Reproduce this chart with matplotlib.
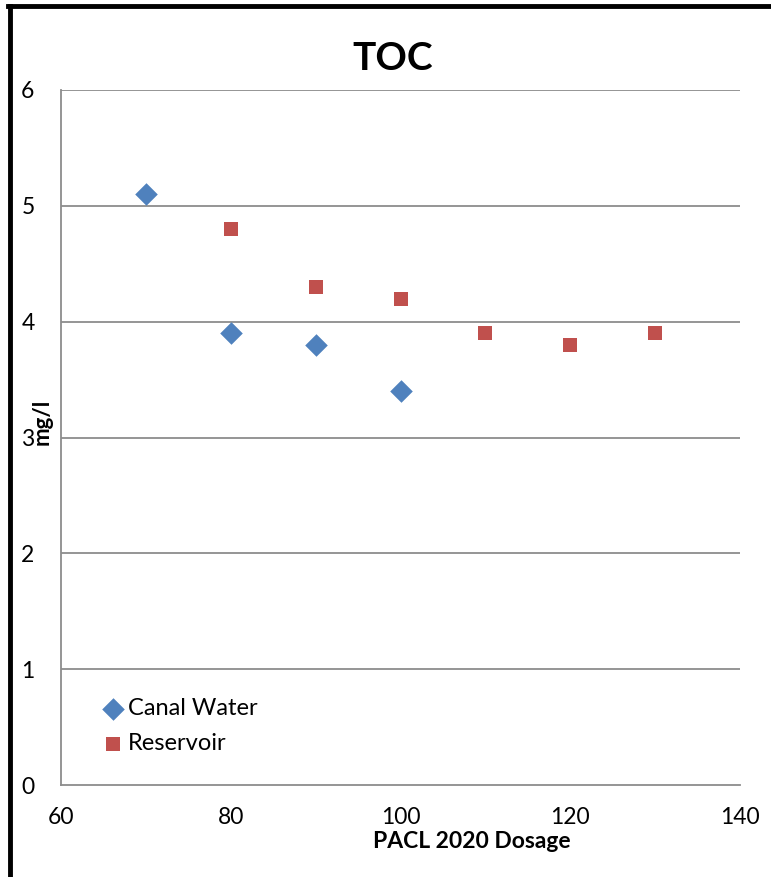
import matplotlib
matplotlib.use("Agg")
import matplotlib.pyplot as plt
from matplotlib.lines import Line2D

plt.rcParams['font.family'] = ['Lato', 'DejaVu Sans']

canal_x = [70, 80, 90, 100]
canal_y = [5.1, 3.9, 3.8, 3.4]
res_x = [80, 90, 100, 110, 120, 130]
res_y = [4.8, 4.3, 4.2, 3.9, 3.8, 3.9]
x_ticks = [60, 80, 100, 120, 140]
y_ticks = [0, 1, 2, 3, 4, 5, 6]

fig = plt.figure(figsize=(7.71, 8.77), dpi=100)
ax = fig.add_axes([61 / 771, 92 / 877, 679 / 771, 695 / 877])

grid_c = '#8c8c8c'
for y in y_ticks[1:]:
    ax.axhline(y, color=grid_c, lw=1.3, zorder=1)

ax.scatter(canal_x, canal_y, marker='D', s=11.5 ** 2, color='#4F81BD', label='Canal Water', zorder=3, linewidths=0)
ax.scatter(res_x, res_y, marker='s', s=10.5 ** 2, color='#C0504D', label='Reservoir', zorder=3, linewidths=0)

ax.set_xlim(60, 140)
ax.set_ylim(0, 6)
ax.set_xticks(x_ticks)
ax.set_yticks(y_ticks)
ax.tick_params(length=0, labelsize=16.5)
ax.tick_params(axis='y', pad=19)
ax.tick_params(axis='x', pad=16)
for s in ['top', 'right']:
    ax.spines[s].set_visible(False)
for s in ['left', 'bottom']:
    ax.spines[s].set_color(grid_c)
    ax.spines[s].set_linewidth(1.3)

fig.text(393 / 771, 1 - 58 / 877, 'TOC', ha='center', va='center', fontsize=28, fontweight='bold')
fig.text(472 / 771, 1 - 842 / 877, 'PACL 2020 Dosage', ha='center', va='center', fontsize=16.5, fontweight='bold')
# y label sits on top of the "3" tick label, as in the original
fig.text(42 / 771, 1 - 422 / 877, 'mg/l', ha='center', va='center', rotation=90, fontsize=16, fontweight='bold')

leg = ax.legend(loc='lower left', bbox_to_anchor=(0.063, 0.044), frameon=False, fontsize=17,
                handlelength=0.8, handletextpad=0.22, labelspacing=0.62, borderaxespad=0,
                borderpad=0, scatterpoints=1)

# outer border
fig.add_artist(Line2D([10 / 771, 10 / 771], [0, 1 - 6 / 877], color='black', lw=3.5, transform=fig.transFigure))
fig.add_artist(Line2D([8 / 771, 1], [1 - 6 / 877, 1 - 6 / 877], color='black', lw=3.5, transform=fig.transFigure))

fig.savefig('out.png', dpi=100)
